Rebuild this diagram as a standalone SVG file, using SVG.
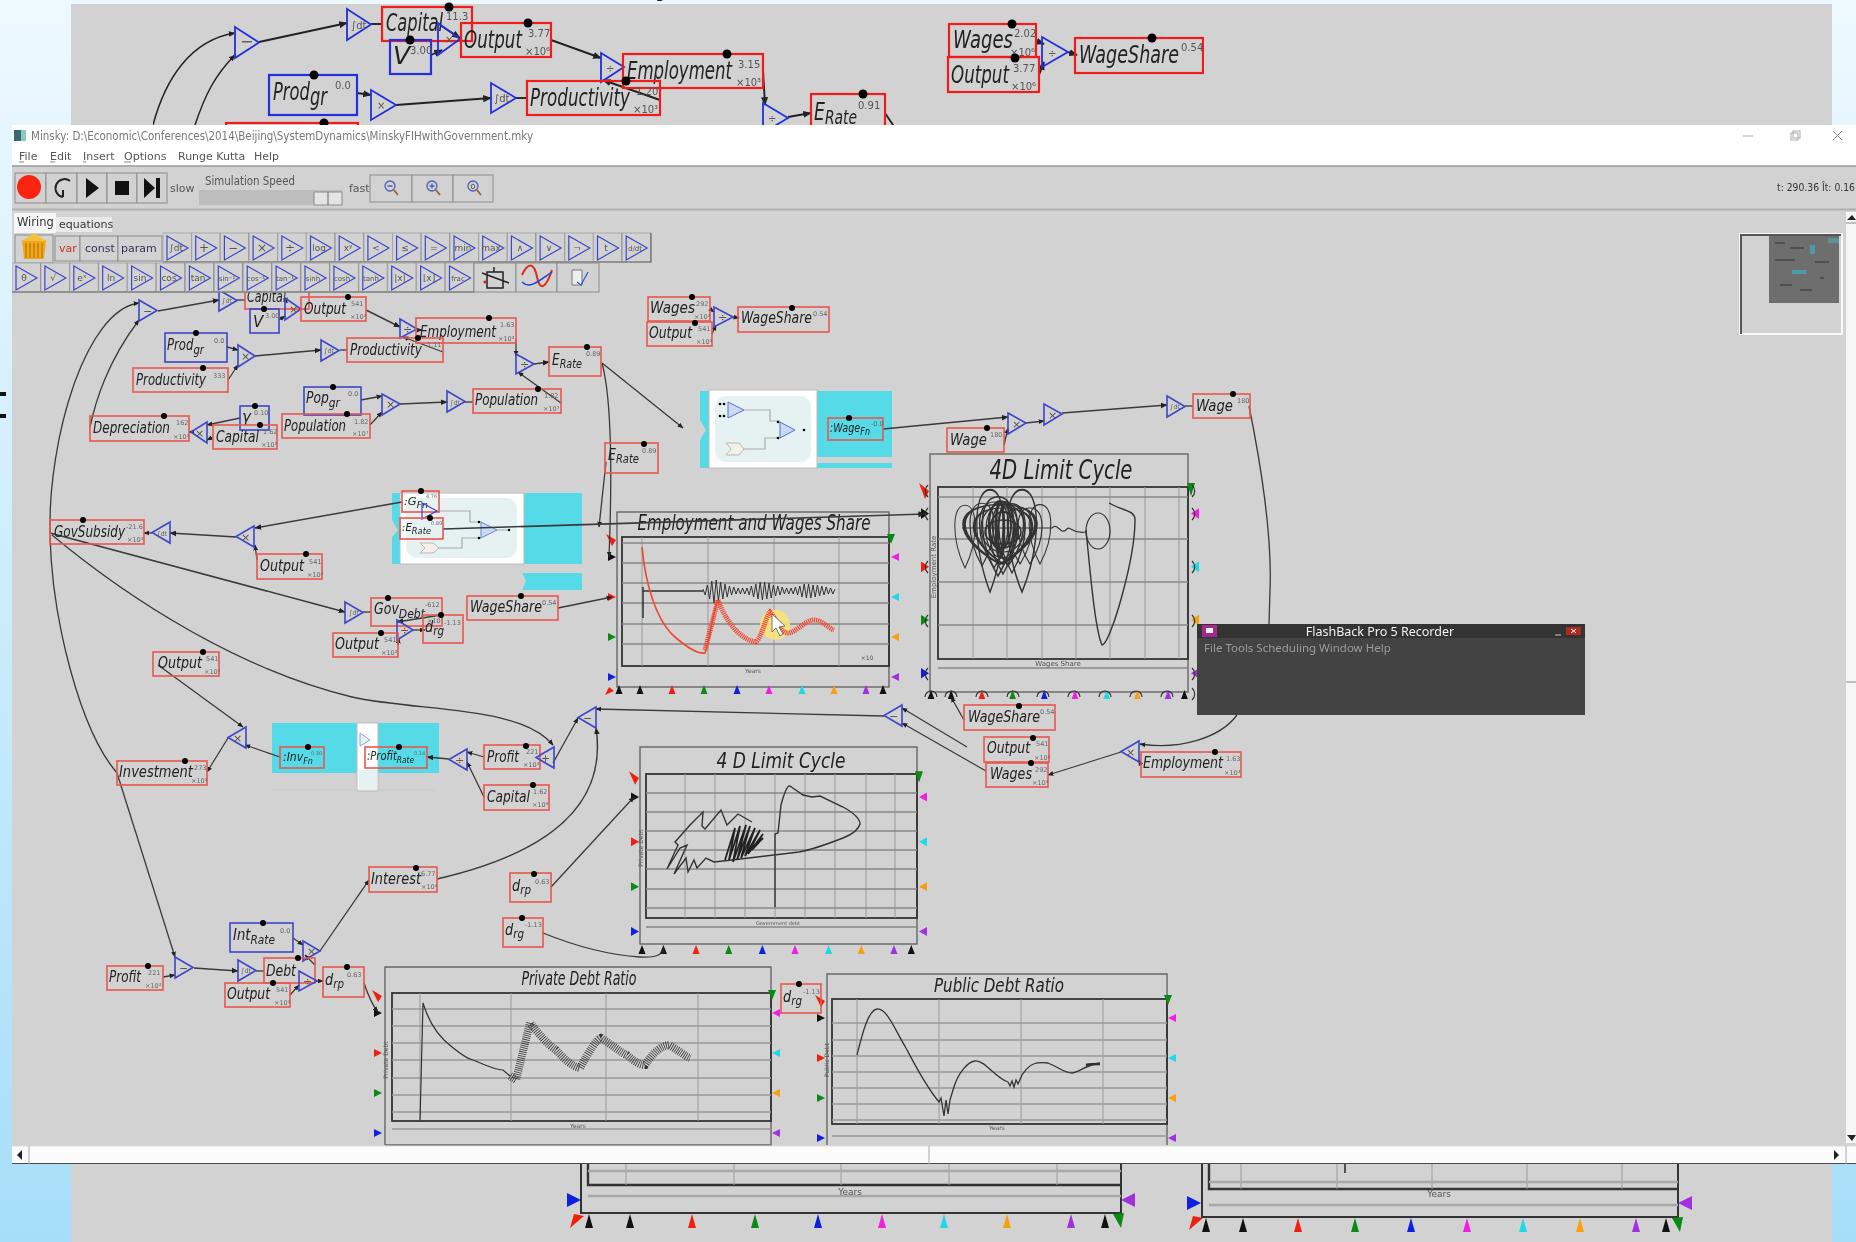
<svg xmlns="http://www.w3.org/2000/svg" width="1856" height="1242" viewBox="0 0 1856 1242">
<style>
text{font-family:"DejaVu Sans","Liberation Sans",sans-serif;fill:#222}
.v{fill:none;stroke:#e8574e;stroke-width:1.6}
.p{fill:none;stroke:#3d47c9;stroke-width:1.6}
.V{fill:none;stroke:#f01c1c;stroke-width:2.2}
.P{fill:none;stroke:#2230e0;stroke-width:2.2}
.o{fill:none;stroke:#3d47c9;stroke-width:1.6}
.O{fill:none;stroke:#2230e0;stroke-width:1.8}
.l{font-size:15px;font-style:italic}
.L{font-size:25px;font-style:italic}
.s{font-size:6.5px;fill:#666}
.S{font-size:10px;fill:#555}
.t{font-size:9px;fill:#555;text-anchor:middle}
.T{font-size:15px;fill:#444;text-anchor:middle}
.w{fill:none;stroke:#3a3a3a;stroke-width:1.3;marker-end:url(#a)}
.n{fill:none;stroke:#3a3a3a;stroke-width:1.3}
.W{fill:none;stroke:#222;stroke-width:1.9;marker-end:url(#a)}
.N{fill:none;stroke:#222;stroke-width:1.9}
.g{stroke:#9a9a9a;stroke-width:1;fill:none}
.h{stroke:#a8a8a8;stroke-width:2.4;fill:none}
.f{fill:none;stroke:#555;stroke-width:1.6}
.c{fill:none;stroke:#333;stroke-width:1.2}
.u{fill:#d2d2d2;stroke:#8c8c8c}
.m{font-size:11px;fill:#555}
.title{font-size:27px;font-style:italic;text-anchor:middle;fill:#222}
.pt{font-size:19px;font-style:italic;text-anchor:middle;fill:#222}
.cy{fill:#55dbe8}
.ig{fill:none;stroke:#aaa;stroke-width:1.2}
</style>
<defs>
<linearGradient id="bg" x1="0" y1="0" x2="0" y2="1"><stop offset="0" stop-color="#eef9ff"/><stop offset="1" stop-color="#a6def8"/></linearGradient>
<marker id="a" markerWidth="4.500" markerHeight="4.500" viewBox="0 0 6 6" refX="5.500" refY="3" orient="auto"><path d="M0,0.500 L6,3 L0,5.500 Z" fill="#222"/></marker>
<polygon id="tr" class="o" points="0,0 18,10.5 0,21"/>
<polygon id="tl" class="o" points="18,0 0,10.5 18,21"/>
<polygon id="Tr" class="O" points="0,0 24,15.5 0,31"/>
<polygon id="pl" points="0,-4 8,0 0,4"/>
<polygon id="pr" points="8,-4 0,0 8,4"/>
<polygon id="pu" points="-3.5,9 3.5,9 0,0"/>
<polygon id="PU" points="-4,14 4,14 0,0"/>
<path id="lp" d="M0,-26 C-16,-26 -16,10 0,40 C16,10 16,-26 0,-26 Z" class="c"/>
<g id="pL"><use href="#pl" y="17" fill="#111"/><use href="#pl" y="57" fill="#f02010"/><use href="#pl" y="97" fill="#0a8a14"/><use href="#pl" y="137" fill="#1020e0"/><polygon points="-2,-6 8,0 4,6" fill="#f02010"/></g>
<g id="pR"><use href="#pr" y="17" fill="#f020e0"/><use href="#pr" y="57" fill="#20d8e8"/><use href="#pr" y="97" fill="#f5a010"/><use href="#pr" y="137" fill="#a030e0"/><polygon points="-4,-6 4,-6 0,4" fill="#0a8a14"/></g>
<g id="pB"><use href="#pu" x="0" fill="#111"/><use href="#pu" x="21" fill="#111"/><use href="#pu" x="53" fill="#f02010"/><use href="#pu" x="85" fill="#0a8a14"/><use href="#pu" x="118" fill="#1020e0"/><use href="#pu" x="150" fill="#f020e0"/><use href="#pu" x="183" fill="#20d8e8"/><use href="#pu" x="215" fill="#f5a010"/><use href="#pu" x="247" fill="#a030e0"/><use href="#pu" x="264" fill="#111"/></g>
<g id="bt"><rect class="u" width="28.7" height="29" style="stroke:#aaa"/><path d="M0,29 H28.7 V0" fill="none" stroke="#666" stroke-width="1.2"/><polygon class="o" points="4,3 25,15 4,27" style="stroke-width:1.2"/></g>
<filter id="bl" x="0" y="0" width="1" height="1" color-interpolation-filters="sRGB"><feGaussianBlur stdDeviation="0.45"/></filter>
</defs>

<rect width="1856" height="1242" fill="url(#bg)"/>
<rect x="71" y="4" width="1761" height="1238" fill="#d2d2d2"/>
<text x="658" y="-6" font-size="34" font-style="italic" style="fill:#111">y</text>
<rect x="0" y="392" width="6" height="4" fill="#111"/><rect x="0" y="414" width="6" height="4" fill="#111"/>

<g id="top-panel" filter="url(#bl)">
<g id="top-wires">
<path class="W" style="stroke-width:1.5" d="M153,125 C165,80 190,40 235,33"/>
<path class="W" style="stroke-width:1.5" d="M195,125 C205,95 215,75 235,55"/>
<path class="W" d="M259,42 L347,23"/>
<path class="N" d="M371,24 H382"/>
<path class="W" d="M440,25 L460,38"/>
<path class="W" d="M431,55 L442,50"/>
<path class="W" d="M551,40 L601,58"/>
<path class="W" d="M660,100 L603,80"/>
<path class="W" d="M763,70 L765,105"/>
<path class="W" d="M788,117 L811,113"/>
<path class="W" d="M357,93 L371,95"/>
<path class="W" d="M396,105 L491,98"/>
<path class="N" d="M516,98 H527"/>
<path class="N" d="M885,113 L895,128"/>
<path class="W" d="M1036,41 L1044,44"/>
<path class="W" d="M1039,75 L1044,62"/>
<path class="W" d="M1068,52 L1077,55"/>
</g>
<g id="top-minus"><use href="#Tr" x="235" y="27"/><text x="240" y="47" style="font-size:16px;fill:#555">−</text></g>
<g id="top-int1"><use href="#Tr" x="347" y="9"/><text class="S" x="351" y="29">∫dt</text></g>
<g id="top-capital"><rect class="V" x="382" y="7" width="90" height="34"/><circle cx="449" cy="7" r="4.5"/><text class="L" x="386" y="31" textLength="57" lengthAdjust="spacingAndGlyphs">Capital</text><text class="S" x="446" y="20">11.3</text></g>
<g id="top-v"><rect class="P" x="390" y="40" width="41" height="34"/><circle cx="410" cy="40" r="4.5"/><text class="L" x="393" y="64">V</text><text class="S" x="410" y="54">3.00</text></g>
<g id="top-times"><polygon class="O" points="438,23 460,39 438,55"/><text class="S" x="445" y="43">×</text></g>
<g id="top-output"><rect class="V" x="461" y="23" width="90" height="34"/><circle cx="528" cy="23" r="4.5"/><text class="L" x="464" y="48" textLength="58" lengthAdjust="spacingAndGlyphs">Output</text><text class="S" x="528" y="37">3.77</text><text class="S" x="525" y="55">×10⁶</text></g>
<g id="top-div1"><polygon class="O" points="601,53 624,67 601,82"/><text class="S" x="606" y="72">÷</text></g>
<g id="top-employment"><rect class="V" x="623" y="54" width="140" height="34"/><circle cx="727" cy="54" r="4.5"/><text class="L" x="627" y="79" textLength="105" lengthAdjust="spacingAndGlyphs">Employment</text><text class="S" x="738" y="68">3.15</text><text class="S" x="736" y="86">×10³</text></g>
<g id="top-productivity"><rect class="V" x="527" y="81" width="133" height="34"/><circle cx="626" cy="81" r="4.5"/><text class="L" x="530" y="106" textLength="100" lengthAdjust="spacingAndGlyphs">Productivity</text><text class="S" x="636" y="95">1.20</text><text class="S" x="633" y="113">×10³</text></g>
<g id="top-prodgr"><rect class="P" x="269" y="75" width="88" height="40"/><circle cx="314" cy="75" r="4.5"/><text class="L" x="273" y="100" textLength="54" lengthAdjust="spacingAndGlyphs">Prod<tspan dy="5">gr</tspan></text><text class="S" x="335" y="89">0.0</text></g>
<g id="top-times2"><polygon class="O" points="371,90 396,105 371,120"/><text class="S" x="377" y="109">×</text></g>
<g id="top-int2"><polygon class="O" points="491,83 516,98 491,113"/><text class="S" x="494" y="102">∫dt</text></g>
<g id="top-div2"><polygon class="O" points="763,103 788,118 763,133"/><text class="S" x="768" y="122">÷</text></g>
<g id="top-erate"><rect class="V" x="811" y="94" width="74" height="40"/><circle cx="863" cy="94" r="4.5"/><text class="L" x="814" y="120" textLength="43" lengthAdjust="spacingAndGlyphs">E<tspan dy="4" font-size="20">Rate</tspan></text><text class="S" x="858" y="109">0.91</text></g>
<g id="top-cut"><rect class="V" x="226" y="123" width="132" height="10"/><circle cx="324" cy="123" r="4.5"/></g>
<g id="top-wages"><rect class="V" x="949" y="24" width="87" height="33"/><circle cx="1012" cy="24" r="4.5"/><text class="L" x="953" y="48" textLength="60" lengthAdjust="spacingAndGlyphs">Wages</text><text class="S" x="1014" y="37">2.02</text><text class="S" x="1010" y="56">×10⁶</text></g>
<g id="top-output2"><rect class="V" x="948" y="57" width="91" height="35"/><circle cx="1015" cy="58" r="4.5"/><text class="L" x="951" y="83" textLength="58" lengthAdjust="spacingAndGlyphs">Output</text><text class="S" x="1013" y="72">3.77</text><text class="S" x="1011" y="90">×10⁶</text></g>
<g id="top-div3"><polygon class="O" points="1042,37 1068,52 1042,67"/><text class="S" x="1048" y="57">÷</text></g>
<g id="top-wageshare"><rect class="V" x="1075" y="38" width="128" height="35"/><circle cx="1152" cy="38" r="4.5"/><text class="L" x="1079" y="63" textLength="100" lengthAdjust="spacingAndGlyphs">WageShare</text><text class="S" x="1181" y="51">0.54</text></g>
</g>

<g id="bottom-plots" filter="url(#bl)">
<g id="bottom-plot-1">
<path d="M581,1160 V1213 H1121 V1160" fill="none" stroke="#333" stroke-width="2"/>
<path d="M588,1160 V1185 H1121" fill="none" stroke="#333" stroke-width="2.4"/>
<path class="g" d="M626,1160 V1185 M734,1160 V1185 M841,1160 V1185 M949,1160 V1185 M1057,1160 V1185"/>
<path class="h" d="M588,1171 H1121 M588,1196 H1121"/>
<text class="t" x="850" y="1195">Years</text>
<polygon points="567,1193 581,1200 567,1207" fill="#1020e0"/>
<polygon points="1135,1193 1121,1200 1135,1207" fill="#a030e0"/>
<polygon points="570,1228 574,1214 584,1216" fill="#f02010"/><polygon points="1113,1214 1124,1213 1121,1228" fill="#0a8a14"/>
<use href="#PU" x="589" y="1214" fill="#111"/><use href="#PU" x="630" y="1214" fill="#111"/><use href="#PU" x="692" y="1214" fill="#f02010"/><use href="#PU" x="755" y="1214" fill="#0a8a14"/><use href="#PU" x="818" y="1214" fill="#1020e0"/><use href="#PU" x="882" y="1214" fill="#f020e0"/><use href="#PU" x="944" y="1214" fill="#20d8e8"/><use href="#PU" x="1007" y="1214" fill="#f5a010"/><use href="#PU" x="1071" y="1214" fill="#a030e0"/><use href="#PU" x="1105" y="1214" fill="#111"/>
</g>
<g id="bottom-plot-2">
<path d="M1202,1160 V1217 H1678 V1160" fill="none" stroke="#333" stroke-width="2"/>
<path d="M1209,1160 V1189 H1678" fill="none" stroke="#333" stroke-width="2.4"/>
<path class="g" d="M1241,1160 V1189 M1337,1160 V1189 M1432,1160 V1189 M1527,1160 V1189 M1622,1160 V1189"/>
<path class="h" d="M1209,1182 H1678 M1209,1205 H1678"/>
<path d="M1345,1160 V1173" stroke="#333" stroke-width="1.6"/>
<text class="t" x="1439" y="1197">Years</text>
<polygon points="1187,1196 1201,1203 1187,1210" fill="#1020e0"/><polygon points="1692,1196 1678,1203 1692,1210" fill="#a030e0"/>
<polygon points="1189,1230 1193,1216 1203,1218" fill="#f02010"/><polygon points="1672,1218 1683,1217 1680,1232" fill="#0a8a14"/>
<use href="#PU" x="1206" y="1218" fill="#111"/><use href="#PU" x="1243" y="1218" fill="#111"/><use href="#PU" x="1298" y="1218" fill="#f02010"/><use href="#PU" x="1355" y="1218" fill="#0a8a14"/><use href="#PU" x="1411" y="1218" fill="#1020e0"/><use href="#PU" x="1467" y="1218" fill="#f020e0"/><use href="#PU" x="1523" y="1218" fill="#20d8e8"/><use href="#PU" x="1580" y="1218" fill="#f5a010"/><use href="#PU" x="1636" y="1218" fill="#a030e0"/><use href="#PU" x="1666" y="1218" fill="#111"/>
</g>
</g>

<g id="window" filter="url(#bl)">
<rect x="12" y="125" width="1844" height="1039" fill="#d2d2d2"/>
<rect x="12" y="125" width="1844" height="41" fill="#fff"/>

<g id="plot-employment">
<rect x="617" y="512" width="272" height="175" fill="none" stroke="#666" stroke-width="1.4"/>
<rect x="622" y="537" width="267" height="129" fill="none" stroke="#333" stroke-width="1.8"/>
<path class="g" d="M642,537 V666 M708,537 V666 M774,537 V666 M839,537 V666"/>
<path class="h" style="stroke-width:1.4;stroke:#888" d="M622,543 H889 M622,563 H889 M622,583 H889 M622,603 H889 M622,624 H889 M622,644 H889"/>
<path d="M643,618 V587 M643,591 H703" fill="none" stroke="#333" stroke-width="1.5"/>
<path d="M703,589 L705.2,595 L707.4,585 L709.6,599 L711.8,581 L714,603 L716.2,580 L718.4,601 L720.6,582 L722.8,599 L725,584 L727.2,597 L729.4,586 L731.6,595 L733.8,587 L736,594 L738.2,588 L740.4,594 L742.6,588 L744.8,594 L747,588 L749.2,595 L751.4,586 L753.6,597 L755.8,584 L758,599 L760.2,582 L762.4,600 L764.6,582 L766.8,599 L769,583 L771.2,598 L773.4,585 L775.6,596 L777.8,586 L780,595 L782.2,587 L784.4,594 L786.6,588 L788.8,594 L791,588 L793.2,594 L795.4,587 L797.6,595 L799.8,586 L802,597 L804.2,584 L806.4,598 L808.6,584 L810.8,598 L813,585 L815.2,597 L817.4,585 L819.6,596 L821.8,586 L824,595 L826.2,587 L828.4,594 L830.6,588 L832.8,594 L835,589" fill="none" stroke="#333" stroke-width="1"/>
<circle cx="775" cy="625" r="15" fill="#f6e27a" opacity="0.9"/>
<path d="M642,547 C645,580 655,620 675,637 C690,650 700,654 705,653 C710,640 713,610 718,600" fill="none" stroke="#ee4a34" stroke-width="1.7"/>
<path d="M705,650 L718,600 C725,620 740,640 756,642 C763,635 765,618 770,612 C776,618 780,632 787,633 C795,634 805,620 814,620 C822,620 828,628 834,630" fill="none" stroke="#ee4a34" stroke-width="5" stroke-dasharray="1.200 0.800"/>
<path d="M772,614 L772,632 L776,628 L780,636 L783,634 L779,627 L785,626 Z" fill="#fff" stroke="#555" stroke-width="0.8"/>
<text class="title" x="754" y="530" textLength="233" lengthAdjust="spacingAndGlyphs" style="font-size:21px">Employment and Wages Share</text>
<text class="t" x="753" y="673" style="font-size:6px">Years</text>
<text class="t" x="867" y="660" style="font-size:6px">×10</text>
<use href="#pL" x="608" y="540"/><use href="#pR" x="891" y="540"/><use href="#pB" x="619" y="685"/>
<polygon points="605,695 609,687 614,691" fill="#f02010"/>
</g>

<g id="plot-4d">
<rect x="930" y="454" width="258" height="238" fill="none" stroke="#666" stroke-width="1.4"/>
<rect x="938" y="487" width="250" height="172" fill="none" stroke="#333" stroke-width="1.8"/>
<path class="g" d="M973,487 V659 M1007,487 V659 M1042,487 V659 M1076,487 V659 M1110,487 V659 M1145,487 V659 M1179,487 V659"/>
<path class="h" style="stroke-width:1.4;stroke:#888" d="M938,497 H1188 M938,539 H1188 M938,582 H1188 M938,625 H1188 M938,668 H1188"/>
<use href="#lp" transform="translate(965,530) scale(.85,.95)"/><use href="#lp" transform="translate(982,528) scale(1,.95)"/><use href="#lp" transform="translate(990,530) scale(1.1,1.55)"/><use href="#lp" transform="translate(994,528) scale(1.2,1)"/><use href="#lp" transform="translate(998,528) scale(1.3,1.2)"/><use href="#lp" transform="translate(1003,530) scale(1.2,1.1)"/><use href="#lp" transform="translate(1008,528) scale(1.3,.95)"/><use href="#lp" transform="translate(1012,531) scale(1.1,1.05)"/><use href="#lp" transform="translate(1020,530) scale(1,.85)"/><use href="#lp" transform="translate(1022,530) scale(1.2,1.55)"/><use href="#lp" transform="translate(1030,530) scale(1,.85)"/><use href="#lp" transform="translate(1040,528) scale(.9,.9)"/><use href="#lp" transform="translate(1003,530) scale(2.4,.85)"/><use href="#lp" transform="translate(1000,528) scale(3,.9)"/>
<ellipse cx="1003" cy="528" rx="22" ry="24" class="c"/><ellipse cx="1002" cy="530" rx="16" ry="28" class="c"/><ellipse cx="1000" cy="525" rx="11" ry="24" class="c" style="stroke-width:2"/><ellipse cx="1006" cy="532" rx="8" ry="28" class="c" style="stroke-width:2"/><ellipse cx="1000" cy="530" rx="4" ry="28" class="c" style="stroke-width:2.5"/><ellipse cx="1003" cy="530" rx="13" ry="18" class="c" style="stroke-width:2"/><ellipse cx="1003" cy="532" rx="18" ry="12" class="c" style="stroke-width:1.6"/>
<path class="c" d="M962,528 H1052 C1058,522 1060,535 1066,530 C1070,524 1072,535 1086,532"/>
<ellipse cx="1098" cy="531" rx="12" ry="18" class="c"/>
<path class="c" style="stroke-width:1.4" d="M1086,530 C1090,570 1095,630 1102,645 C1110,645 1135,560 1135,520 C1135,510 1125,512 1109,503"/>
<text class="title" x="1061" y="479" textLength="143" lengthAdjust="spacingAndGlyphs">4D Limit Cycle</text>
<text class="t" x="1058" y="666" style="font-size:7px">Wages Share</text>
<text class="t" transform="translate(936,567) rotate(-90)" style="font-size:7px">Employment Rate</text>
<g transform="translate(921,491) scale(1,1.33)"><use href="#pL"/></g>
<g transform="translate(1191,491) scale(1,1.33)"><use href="#pR"/></g>
<g transform="translate(931,690) scale(.96,1)"><use href="#pB"/></g>
<path class="c" d="M928,485 a8,8 0 0 0 0,12 M928,508 a8,8 0 0 0 0,12 M928,561 a8,8 0 0 0 0,12 M928,615 a8,8 0 0 0 0,12 M928,668 a8,8 0 0 0 0,12 M1192,485 a8,8 0 0 1 0,12 M1192,508 a8,8 0 0 1 0,12 M1192,561 a8,8 0 0 1 0,12 M1192,615 a8,8 0 0 1 0,12 M1192,668 a8,8 0 0 1 0,12 M1192,688 a8,8 0 0 1 0,12"/>
<path class="c" d="M976,697 a6,6 0 0 1 12,0 M1007,697 a6,6 0 0 1 12,0 M1037,697 a6,6 0 0 1 12,0 M1068,697 a6,6 0 0 1 12,0 M1099,697 a6,6 0 0 1 12,0 M1130,697 a6,6 0 0 1 12,0 M1161,697 a6,6 0 0 1 12,0 M945,697 a6,6 0 0 1 12,0 M925,697 a6,6 0 0 1 12,0"/>
</g>

<g id="plot-4d-debt">
<rect x="640" y="747" width="277" height="197" fill="none" stroke="#666" stroke-width="1.4"/>
<rect x="646" y="774" width="271" height="144" fill="none" stroke="#333" stroke-width="1.8"/>
<path class="g" d="M685,774 V918 M715,774 V918 M745,774 V918 M775,774 V918 M805,774 V918 M835,774 V918 M866,774 V918 M895,774 V918"/>
<path class="h" style="stroke-width:1.4;stroke:#888" d="M646,793 H917 M646,812 H917 M646,831 H917 M646,850 H917 M646,869 H917 M646,889 H917 M646,908 H917 M646,927 H917"/>
<path class="c" style="stroke-width:1.4" d="M775,907 V834 L778,833 L781,805 C785,790 788,785 790,786 L803,795 L812,797 L820,796 L843,807 C852,812 860,818 860,824 C858,832 848,836 843,838 C825,845 810,850 799,852 L732,860 L714,862 L706,858 L697,868 L694,860 L688,872 L686,858 L674,874 L687,845 L680,848 L667,869 L678,845 L675,842 L690,825 L703,812 L702,826 L705,829 L721,810 L727,825 L738,814 L745,818 L752,822"/>
<path d="M725,860 L735,828 L729,860 L740,826 L733,862 L746,825 L737,860 L750,826 L741,858 L755,828 L745,856 L760,830 L748,854 L763,834 L752,850 L763,838 L755,846" fill="none" stroke="#222" stroke-width="1.8"/>
<text class="title" x="781" y="768" textLength="129" lengthAdjust="spacingAndGlyphs" style="font-size:21px">4 D Limit Cycle</text>
<text class="t" x="778" y="925" style="font-size:5px">Government debt</text>
<text class="t" transform="translate(643,848) rotate(-90)" style="font-size:6px">Private Debt</text>
<g transform="translate(631,778) scale(1,1.12)"><use href="#pL"/></g><g transform="translate(919,778) scale(1,1.12)"><use href="#pR"/></g><g transform="translate(642,945) scale(1.02,1)"><use href="#pB"/></g>
</g>

<g id="plot-private">
<path d="M385,1145 V967 H771 V1145 H385" fill="none" stroke="#666" stroke-width="1.4"/>
<rect x="392" y="993" width="379" height="128" fill="none" stroke="#333" stroke-width="1.8"/>
<path class="g" d="M420,993 V1121 M511,993 V1121 M606,993 V1121 M698,993 V1121"/>
<path class="h" style="stroke-width:1.6;stroke:#999" d="M392,1009 H771 M392,1026 H771 M392,1043 H771 M392,1060 H771 M392,1078 H771 M392,1095 H771 M392,1112 H771 M392,1129 H771"/>
<path d="M420,1122 L423,1003 C428,1020 434,1030 444,1040 C455,1050 465,1058 473,1060 C485,1065 495,1070 503,1070 L510,1076" fill="none" stroke="#333" stroke-width="1.2"/>
<path d="M510,1076 L516,1080 L530,1023 C540,1035 548,1045 556,1050 C565,1060 572,1066 580,1068 C590,1050 596,1040 601,1038 C612,1045 620,1052 627,1055 C635,1062 640,1065 645,1065 C655,1050 662,1046 669,1045 C678,1050 685,1056 690,1058" fill="none" stroke="#333" stroke-width="8" stroke-dasharray="0.800 1.300"/>
<text class="pt" x="579" y="985" textLength="115" lengthAdjust="spacingAndGlyphs">Private Debt Ratio</text>
<text class="t" x="578" y="1128" style="font-size:6px">Years</text>
<text class="t" transform="translate(388,1060) rotate(-90)" style="font-size:6px">Private Debt</text>
<g transform="translate(374,996)"><use href="#pL"/></g><g transform="translate(772,996)"><use href="#pR"/></g>
</g>

<g id="plot-public">
<path d="M827,1145 V974 H1167 V1145" fill="none" stroke="#666" stroke-width="1.4"/>
<rect x="832" y="999" width="335" height="125" fill="none" stroke="#333" stroke-width="1.8"/>
<path class="g" d="M857,999 V1124 M939,999 V1124 M1021,999 V1124 M1103,999 V1124"/>
<path class="h" style="stroke-width:1.6;stroke:#999" d="M832,1023 H1167 M832,1040 H1167 M832,1056 H1167 M832,1072 H1167 M832,1088 H1167 M832,1104 H1167 M832,1120 H1167 M832,1136 H1167"/>
<path d="M857,1055 C862,1035 868,1010 877,1009 C887,1008 895,1030 906,1048 C915,1065 925,1085 939,1102 L941,1098 L944,1116 L946,1100 L948,1114 L950,1100 L953,1090 C958,1072 968,1062 975,1061 C985,1060 995,1078 1008,1082 L1010,1086 L1012,1081 L1014,1087 L1016,1080 L1018,1084 L1022,1075 C1030,1062 1038,1062 1048,1063 C1060,1068 1065,1073 1072,1073 C1080,1072 1085,1065 1100,1063 L1100,1063" fill="none" stroke="#333" stroke-width="1.3"/>
<path d="M1086,1065 C1090,1064 1095,1064 1100,1064" fill="none" stroke="#333" stroke-width="2.500"/>
<text class="pt" x="999" y="992" textLength="130" lengthAdjust="spacingAndGlyphs">Public Debt Ratio</text>
<text class="t" x="997" y="1130" style="font-size:6px">Years</text>
<text class="t" transform="translate(829,1060) rotate(-90)" style="font-size:6px">Public Debt</text>
<g transform="translate(817,1001)"><use href="#pL"/></g><g transform="translate(1168,1001)"><use href="#pR"/></g>
</g>

<g id="group-wage">
<path class="cy" d="M700,391 H892 V457 H817 V468 H700 V440 L706,430 L700,420 Z"/>
<rect class="cy" x="817" y="463" width="75" height="5"/>
<rect x="709" y="390" width="108" height="78" fill="#fff" stroke="#bbb"/>
<rect x="715" y="396" width="96" height="66" rx="11" fill="#e6f2f2"/>
<polygon points="728,402 744,410 728,418" fill="#c9daf2" stroke="#5b6fd0"/>
<polygon points="780,422 795,430 780,438" fill="#c9daf2" stroke="#5b6fd0"/>
<path class="ig" d="M744,410 H770 V421 H780 M744,449 H765 V438 H780"/>
<polygon points="726,443 739,443 744,449 739,455 726,455 731,449" fill="#f2efec" stroke="#bba"/>
<circle cx="720" cy="404" r="1.300"/><circle cx="724" cy="404" r="1.300"/><circle cx="720" cy="416" r="1.300"/><circle cx="724" cy="416" r="1.300"/><circle cx="778" cy="422" r="1.300"/><circle cx="778" cy="438" r="1.300"/><circle cx="804" cy="430" r="1.300"/>
</g>
<g id="group-gov">
<path class="cy" d="M392,493 H582 V564 H392 V537 L398,530 L392,520 Z"/>
<path class="cy" d="M522,573 H582 V590 H522 L526,581 Z"/>
<rect x="400" y="493" width="124" height="71" fill="#fff" stroke="#bbb"/>
<rect x="406" y="498" width="111" height="60" rx="11" fill="#e6f2f2"/>
<polygon points="481,522 497,530 481,538" fill="#c9daf2" stroke="#6f82d8"/>
<path class="ig" d="M440,511 H470 V522 H481 M439,548 H462 V538 H481 M497,530 H507"/>
<polygon points="420,543 433,543 439,548 433,553 420,553 425,548" fill="#f2efec" stroke="#bba"/>
<circle cx="479" cy="522" r="1.300"/><circle cx="479" cy="538" r="1.300"/><circle cx="509" cy="530" r="1.300"/>
</g>
<g id="group-inv">
<rect class="cy" x="272" y="723" width="167" height="50"/>
<rect x="357" y="723" width="21" height="68" fill="#fff" stroke="#bbb"/>
<rect x="359" y="770" width="18" height="19" fill="#e6f2f2"/>
<polygon points="360,733 370,740 360,746" fill="#e6f2f2" stroke="#8fa0e0"/>
<path d="M272,790 H435" stroke="#c8c8c8" stroke-width="0.8"/>
</g>

<g id="connectors">
<path class="w" d="M90,427 C100,380 120,345 139,320"/>
<path class="w" d="M50,533 C48,440 85,310 139,303"/>
<path class="n" d="M50,535 C52,620 80,730 117,773"/>
<path class="w" d="M117,773 L175,957"/>
<path class="w" style="stroke-width:1.5" d="M50,533 L345,612"/>
<path class="w" d="M52,535 C130,600 240,670 352,697 C420,712 520,705 553,745"/>
<path class="w" style="stroke-width:1.5" d="M158,311 L219,300"/>
<path class="n" d="M237,300 H245"/>
<path class="w" d="M286,300 L287,303"/>
<path class="w" d="M279,320 L285,316"/>
<path class="w" style="stroke-width:1.5" d="M366,310 L400,327"/>
<path class="w" d="M443,352 L403,337"/>
<path class="w" d="M417,330 L422,330"/>
<path class="w" d="M516,340 L516,356"/>
<path class="w" d="M561,403 L518,372"/>
<path class="w" style="stroke-width:1.5" d="M534,364 L549,362"/>
<path class="w" d="M227,347 L238,350"/>
<path class="w" d="M228,380 L238,365"/>
<path class="w" style="stroke-width:1.5" d="M255,356 L321,350"/>
<path class="n" d="M340,350 H347"/>
<path class="w" d="M361,400 L382,396"/>
<path class="w" d="M370,425 L382,412"/>
<path class="w" style="stroke-width:1.5" d="M400,404 L447,402"/>
<path class="n" d="M464,402 H473"/>
<path class="w" d="M240,418 L207,425"/>
<path class="w" d="M213,437 L207,440"/>
<path class="w" d="M191,432 L189,432"/>
<path class="w" d="M710,309 L714,312"/>
<path class="w" d="M712,334 L716,325"/>
<path class="w" d="M733,317 L739,318"/>
<path class="w" d="M602,363 C612,400 612,480 609,557"/>
<path class="w" d="M606,462 L599,527"/>
<path class="w" style="stroke-width:1.6" d="M443,529 L925,514"/>
<path class="w" d="M602,363 L683,428"/>
<path class="w" style="stroke-width:1.5" d="M883,429 L1008,417"/>
<path class="w" d="M1004,445 L1008,428"/>
<path class="w" d="M1026,423 L1044,421"/>
<path class="w" style="stroke-width:1.5" d="M1062,413 L1167,405"/>
<path class="n" d="M1185,406 H1193"/>
<path class="w" d="M558,608 L612,597"/>
<path class="w" d="M551,887 L634,797"/>
<path class="w" d="M543,933 C580,948 610,955 640,957 C655,958 663,955 663,948"/>
<path class="w" style="stroke-width:1.5" d="M437,879 C520,860 610,820 596,728"/>
<path class="w" d="M553,763 L578,718"/>
<path class="w" d="M884,716 L596,709"/>
<path class="w" d="M967,747 L902,708"/>
<path class="w" d="M986,771 L902,723"/>
<path class="w" d="M964,720 L951,697"/>
<path class="w" d="M1121,752 L1048,775"/>
<path class="w" d="M1249,406 C1262,470 1272,540 1270,590 L1269,624 M1237,715 C1220,738 1180,750 1140,744"/>
<path class="w" d="M1141,765 L1139,760"/>
<path class="w" d="M484,757 L467,752"/>
<path class="w" d="M484,797 L467,762"/>
<path class="w" style="stroke-width:1.5" d="M449,759 L427,757"/>
<path class="w" d="M280,757 L245,745"/>
<path class="w" d="M158,665 L243,727"/>
<path class="w" d="M228,738 L207,772"/>
<path class="w" d="M163,977 L175,975"/>
<path class="w" style="stroke-width:1.5" d="M194,968 L238,971"/>
<path class="n" d="M256,971 H264"/>
<path class="w" d="M320,951 L369,880"/>
<path class="w" d="M293,938 L303,945"/>
<path class="w" d="M315,965 L305,955"/>
<path class="w" d="M317,981 L323,981"/>
<path class="w" d="M290,995 L299,985"/>
<path class="w" d="M364,983 C368,995 372,1005 378,1012"/>
<path class="w" style="stroke-width:1.5" d="M236,537 L170,533"/>
<path class="w" d="M152,533 L144,533"/>
<path class="w" d="M257,560 L255,545"/>
<path class="w" style="stroke-width:1.5" d="M402,502 L255,528"/>
<path class="n" d="M363,612 H371"/>
<path class="w" style="stroke-width:1.5" d="M441,615 L397,622"/>
<path class="w" d="M398,645 L399,638"/>
<path class="w" d="M413,630 L425,630"/>
</g>

<g id="n-minus1"><use href="#tr" x="139" y="300"/><text class="m" x="143" y="315">−</text></g>
<g id="n-int1"><use href="#tr" x="219" y="290"/><text class="s" x="222" y="303">∫dt</text></g>
<g id="n-capital1"><rect class="v" x="245" y="290" width="64" height="19"/><text class="l" x="247" y="302" textLength="39" lengthAdjust="spacingAndGlyphs">Capital</text></g>
<g id="n-v"><rect class="p" x="250" y="309" width="29" height="24"/><circle cx="264" cy="309" r="3"/><text class="l" x="253" y="327">V</text><text class="s" x="265" y="318">3.00</text></g>
<g id="n-times1"><polygon class="o" points="285,298 301,309 285,320"/><text class="m" x="289" y="313" style="fill:#8a4a20">×</text></g>
<g id="n-output1"><rect class="v" x="301" y="297" width="65" height="24"/><circle cx="348" cy="297" r="3"/><text class="l" x="304" y="314" textLength="42" lengthAdjust="spacingAndGlyphs">Output</text><text class="s" x="351" y="306">541</text><text class="s" x="350" y="319">×10³</text></g>
<g id="n-div1"><polygon class="o" points="400,319 417,329 400,338"/><text class="m" x="403" y="333">÷</text></g>
<g id="n-employment1"><rect class="v" x="416" y="318" width="100" height="25"/><circle cx="489" cy="318" r="3"/><text class="l" x="420" y="337" textLength="76" lengthAdjust="spacingAndGlyphs">Employment</text><text class="s" x="500" y="327">1.63</text><text class="s" x="498" y="341">×10³</text></g>
<g id="n-productivity1"><rect class="v" x="347" y="338" width="96" height="24"/><circle cx="418" cy="338" r="3"/><text class="l" x="350" y="355" textLength="72" lengthAdjust="spacingAndGlyphs">Productivity</text><text class="s" x="427" y="347">1.11</text></g>
<g id="n-int2"><use href="#tr" x="321" y="340"/><text class="s" x="324" y="353">∫dt</text></g>
<g id="n-prodgr"><rect class="p" x="165" y="333" width="62" height="29"/><circle cx="196" cy="333" r="3"/><text class="l" x="167" y="350" textLength="37" lengthAdjust="spacingAndGlyphs">Prod<tspan dy="4" font-size="13">gr</tspan></text><text class="s" x="214" y="343">0.0</text></g>
<g id="n-times2"><polygon class="o" points="238,345 255,356 238,367"/><text class="m" x="241" y="360">×</text></g>
<g id="n-productivity2"><rect class="v" x="133" y="368" width="95" height="24"/><circle cx="203" cy="368" r="3"/><text class="l" x="136" y="385" textLength="70" lengthAdjust="spacingAndGlyphs">Productivity</text><text class="s" x="213" y="378">333</text></g>
<g id="n-div2"><polygon class="o" points="516,354 534,364 516,374"/><text class="m" x="520" y="368">÷</text></g>
<g id="n-erate1"><rect class="v" x="549" y="347" width="52" height="29"/><circle cx="587" cy="347" r="3"/><text class="l" x="552" y="365" textLength="30" lengthAdjust="spacingAndGlyphs">E<tspan dy="3" font-size="12">Rate</tspan></text><text class="s" x="586" y="356">0.89</text></g>
<g id="n-popgr"><rect class="p" x="304" y="387" width="57" height="28"/><circle cx="333" cy="387" r="3"/><text class="l" x="306" y="403" textLength="34" lengthAdjust="spacingAndGlyphs">Pop<tspan dy="4" font-size="13">gr</tspan></text><text class="s" x="348" y="396">0.0</text></g>
<g id="n-population1"><rect class="v" x="282" y="414" width="88" height="24"/><circle cx="347" cy="414" r="3"/><text class="l" x="284" y="431" textLength="62" lengthAdjust="spacingAndGlyphs">Population</text><text class="s" x="354" y="424">1.82</text><text class="s" x="352" y="436">×10⁷</text></g>
<g id="n-times3"><polygon class="o" points="382,394 400,404 382,415"/><text class="m" x="386" y="408">×</text></g>
<g id="n-int3"><use href="#tr" x="447" y="391"/><text class="s" x="450" y="405">∫dt</text></g>
<g id="n-population2"><rect class="v" x="473" y="389" width="88" height="24"/><circle cx="538" cy="389" r="3"/><text class="l" x="475" y="405" textLength="63" lengthAdjust="spacingAndGlyphs">Population</text><text class="s" x="544" y="398">1.82</text><text class="s" x="543" y="411">×10⁷</text></g>
<g id="n-gamma"><rect class="p" x="240" y="406" width="29" height="24"/><circle cx="255" cy="406" r="3"/><text class="l" x="242" y="422">γ</text><text class="s" x="254" y="415">0.10</text></g>
<g id="n-times4"><polygon class="o" points="207,422 191,432 207,443"/><text class="m" x="195" y="437">×</text></g>
<g id="n-capital2"><rect class="v" x="213" y="425" width="64" height="24"/><circle cx="260" cy="425" r="3"/><text class="l" x="216" y="442" textLength="43" lengthAdjust="spacingAndGlyphs">Capital</text><text class="s" x="263" y="434">1.62</text><text class="s" x="261" y="447">×10⁹</text></g>
<g id="n-depreciation"><rect class="v" x="90" y="416" width="99" height="25"/><circle cx="164" cy="416" r="3"/><text class="l" x="93" y="433" textLength="77" lengthAdjust="spacingAndGlyphs">Depreciation</text><text class="s" x="176" y="425">162</text><text class="s" x="173" y="439">×10³</text></g>
<g id="n-erate2"><rect class="v" x="605" y="443" width="53" height="30"/><circle cx="644" cy="444" r="3"/><text class="l" x="608" y="460" textLength="31" lengthAdjust="spacingAndGlyphs">E<tspan dy="3" font-size="12">Rate</tspan></text><text class="s" x="642" y="453">0.89</text></g>
<g id="n-wages1"><rect class="v" x="648" y="297" width="62" height="24"/><circle cx="692" cy="297" r="3"/><text class="l" x="650" y="313" textLength="45" lengthAdjust="spacingAndGlyphs">Wages</text><text class="s" x="696" y="306">292</text><text class="s" x="694" y="319">×10³</text></g>
<g id="n-output2"><rect class="v" x="647" y="322" width="65" height="24"/><circle cx="695" cy="323" r="3"/><text class="l" x="649" y="338" textLength="43" lengthAdjust="spacingAndGlyphs">Output</text><text class="s" x="698" y="331">541</text><text class="s" x="696" y="344">×10³</text></g>
<g id="n-div3"><polygon class="o" points="714,307 733,317 714,327"/><text class="m" x="718" y="321">÷</text></g>
<g id="n-wageshare1"><rect class="v" x="738" y="307" width="91" height="25"/><circle cx="792" cy="308" r="3"/><text class="l" x="741" y="323" textLength="71" lengthAdjust="spacingAndGlyphs">WageShare</text><text class="s" x="813" y="316">0.54</text></g>
<g id="n-wagefn"><rect class="v" x="828" y="418" width="55" height="22"/><circle cx="849" cy="418" r="3"/><text class="l" x="830" y="432" textLength="40" lengthAdjust="spacingAndGlyphs" style="font-size:12px">:Wage<tspan dy="3" font-size="10">Fn</tspan></text><text class="s" x="871" y="426">-0.0</text></g>
<g id="n-wage1"><rect class="v" x="947" y="428" width="57" height="24"/><circle cx="987" cy="428" r="3"/><text class="l" x="950" y="445" textLength="37" lengthAdjust="spacingAndGlyphs">Wage</text><text class="s" x="990" y="437">180</text></g>
<g id="n-times5"><polygon class="o" points="1008,413 1026,423 1008,434"/><text class="m" x="1012" y="428">×</text></g>
<g id="n-times6"><polygon class="o" points="1044,404 1062,414 1044,425"/><text class="m" x="1048" y="419">×</text></g>
<g id="n-int4"><use href="#tr" x="1167" y="396"/><text class="s" x="1170" y="409">∫dt</text></g>
<g id="n-wage2"><rect class="v" x="1193" y="394" width="57" height="24"/><circle cx="1233" cy="394" r="3"/><text class="l" x="1196" y="411" textLength="37" lengthAdjust="spacingAndGlyphs">Wage</text><text class="s" x="1237" y="403">180</text></g>
<g id="n-govsubsidy"><rect class="v" x="50" y="520" width="94" height="24"/><circle cx="83" cy="520" r="3"/><text class="l" x="54" y="537" textLength="71" lengthAdjust="spacingAndGlyphs">GovSubsidy</text><text class="s" x="126" y="529">-21.6</text><text class="s" x="127" y="542">×10³</text></g>
<g id="n-int5"><use href="#tl" x="152" y="522"/><text class="s" x="157" y="536">∫dt</text></g>
<g id="n-times7"><use href="#tl" x="236" y="526"/><text class="m" x="241" y="541">×</text></g>
<g id="n-output3"><rect class="v" x="257" y="554" width="65" height="25"/><circle cx="306" cy="554" r="3"/><text class="l" x="260" y="571" textLength="44" lengthAdjust="spacingAndGlyphs">Output</text><text class="s" x="309" y="564">541</text><text class="s" x="307" y="577">×10³</text></g>
<g id="n-gfn"><rect class="v" x="402" y="491" width="37" height="21"/><circle cx="421" cy="491" r="3"/><text class="l" x="404" y="505" textLength="24" lengthAdjust="spacingAndGlyphs" style="font-size:11px">:G<tspan dy="3" font-size="9">Fn</tspan></text><text class="s" x="426" y="498" style="font-size:5px">4.76</text><polygon class="o" points="422,503 437,511 422,519" style="stroke-width:1.2"/></g>
<g id="n-erate3"><rect class="v" x="400" y="518" width="43" height="21"/><circle cx="430" cy="518" r="3"/><text class="l" x="402" y="531" textLength="29" lengthAdjust="spacingAndGlyphs" style="font-size:11px">:E<tspan dy="3" font-size="9">Rate</tspan></text><text class="s" x="431" y="525" style="font-size:5px">0.89</text></g>
<g id="n-int6"><use href="#tr" x="345" y="602"/><text class="s" x="349" y="615">∫dt</text></g>
<g id="n-govdebt"><rect class="v" x="371" y="598" width="71" height="28"/><circle cx="388" cy="598" r="3"/><text class="l" x="374" y="614" textLength="51" lengthAdjust="spacingAndGlyphs">Gov<tspan dy="4" font-size="13">Debt</tspan></text><text class="s" x="425" y="607">-612</text><text class="s" x="427" y="623">×10</text></g>
<g id="n-wageshare2"><rect class="v" x="467" y="596" width="91" height="24"/><circle cx="521" cy="596" r="3"/><text class="l" x="470" y="612" textLength="72" lengthAdjust="spacingAndGlyphs">WageShare</text><text class="s" x="542" y="605">0.54</text></g>
<g id="n-drg1"><rect class="v" x="423" y="615" width="40" height="28"/><circle cx="441" cy="615" r="3"/><text class="l" x="425" y="632" textLength="19" lengthAdjust="spacingAndGlyphs">d<tspan dy="3" font-size="12">rg</tspan></text><text class="s" x="444" y="625">-1.13</text></g>
<g id="n-div4"><polygon class="o" points="397,620 413,630 397,640"/><text class="m" x="400" y="634" style="fill:#8a4a20">÷</text></g>
<g id="n-output4"><rect class="v" x="333" y="633" width="65" height="24"/><circle cx="381" cy="633" r="3"/><text class="l" x="335" y="649" textLength="44" lengthAdjust="spacingAndGlyphs">Output</text><text class="s" x="384" y="642">541</text><text class="s" x="381" y="655">×10³</text></g>
<g id="n-output5"><rect class="v" x="153" y="652" width="66" height="24"/><circle cx="203" cy="652" r="3"/><text class="l" x="158" y="668" textLength="44" lengthAdjust="spacingAndGlyphs">Output</text><text class="s" x="206" y="661">541</text><text class="s" x="204" y="674">×10³</text></g>
<g id="n-times8"><use href="#tl" x="228" y="727"/><text class="m" x="233" y="742">×</text></g>
<g id="n-investment"><rect class="v" x="117" y="761" width="90" height="24"/><circle cx="185" cy="761" r="3"/><text class="l" x="119" y="777" textLength="74" lengthAdjust="spacingAndGlyphs">Investment</text><text class="s" x="194" y="770">273</text><text class="s" x="191" y="783">×10³</text></g>
<g id="n-invfn"><rect class="v" x="280" y="747" width="44" height="21"/><circle cx="308" cy="747" r="3"/><text class="l" x="283" y="761" textLength="30" lengthAdjust="spacingAndGlyphs" style="font-size:12px">:Inv<tspan dy="3" font-size="9">Fn</tspan></text><text class="s" x="311" y="755" style="font-size:5px">0.30</text></g>
<g id="n-profitrate"><rect class="v" x="365" y="747" width="62" height="21"/><circle cx="399" cy="747" r="3"/><text class="l" x="367" y="760" textLength="47" lengthAdjust="spacingAndGlyphs" style="font-size:12px">:Profit<tspan dy="3" font-size="9">Rate</tspan></text><text class="s" x="414" y="755" style="font-size:5px">0.14</text></g>
<g id="n-div5"><use href="#tl" x="449" y="749"/><text class="m" x="455" y="764" style="fill:#8a4a20">÷</text></g>
<g id="n-profit1"><rect class="v" x="484" y="745" width="56" height="24"/><circle cx="526" cy="746" r="3"/><text class="l" x="487" y="762" textLength="32" lengthAdjust="spacingAndGlyphs">Profit</text><text class="s" x="526" y="754">221</text><text class="s" x="523" y="767">×10³</text></g>
<g id="n-plus"><use href="#tl" x="536" y="747"/><text class="m" x="541" y="762">+</text></g>
<g id="n-capital3"><rect class="v" x="484" y="785" width="65" height="25"/><circle cx="533" cy="785" r="3"/><text class="l" x="487" y="802" textLength="43" lengthAdjust="spacingAndGlyphs">Capital</text><text class="s" x="533" y="794">1.62</text><text class="s" x="532" y="807">×10⁹</text></g>
<g id="n-minus2"><use href="#tl" x="578" y="707"/><text class="m" x="583" y="722">−</text></g>
<g id="n-minus3"><use href="#tl" x="884" y="705"/><text class="m" x="889" y="720">−</text></g>
<g id="n-wageshare3"><rect class="v" x="964" y="705" width="91" height="25"/><circle cx="1019" cy="706" r="3"/><text class="l" x="968" y="722" textLength="72" lengthAdjust="spacingAndGlyphs">WageShare</text><text class="s" x="1040" y="714">0.54</text></g>
<g id="n-output6"><rect class="v" x="984" y="737" width="65" height="25"/><circle cx="1033" cy="738" r="3"/><text class="l" x="987" y="753" textLength="43" lengthAdjust="spacingAndGlyphs">Output</text><text class="s" x="1036" y="746">541</text><text class="s" x="1034" y="760">×10³</text></g>
<g id="n-wages2"><rect class="v" x="986" y="763" width="62" height="24"/><circle cx="1031" cy="763" r="3"/><text class="l" x="990" y="779" textLength="42" lengthAdjust="spacingAndGlyphs">Wages</text><text class="s" x="1035" y="772">292</text><text class="s" x="1032" y="785">×10³</text></g>
<g id="n-times9"><use href="#tl" x="1121" y="741"/><text class="m" x="1126" y="756">×</text></g>
<g id="n-employment2"><rect class="v" x="1141" y="752" width="100" height="25"/><circle cx="1215" cy="752" r="3"/><text class="l" x="1143" y="768" textLength="80" lengthAdjust="spacingAndGlyphs">Employment</text><text class="s" x="1226" y="761">1.63</text><text class="s" x="1224" y="775">×10³</text></g>
<g id="n-interest"><rect class="v" x="369" y="867" width="68" height="25"/><circle cx="416" cy="868" r="3"/><text class="l" x="371" y="884" textLength="50" lengthAdjust="spacingAndGlyphs">Interest</text><text class="s" x="421" y="876">6.77</text><text class="s" x="421" y="889">×10³</text></g>
<g id="n-drp1"><rect class="v" x="510" y="873" width="41" height="29"/><circle cx="534" cy="874" r="3"/><text class="l" x="512" y="891" textLength="19" lengthAdjust="spacingAndGlyphs">d<tspan dy="3" font-size="12">rp</tspan></text><text class="s" x="535" y="884">0.63</text></g>
<g id="n-drg2"><rect class="v" x="503" y="918" width="40" height="29"/><circle cx="522" cy="918" r="3"/><text class="l" x="505" y="935" textLength="19" lengthAdjust="spacingAndGlyphs">d<tspan dy="3" font-size="12">rg</tspan></text><text class="s" x="525" y="927">-1.13</text></g>
<g id="n-intrate"><rect class="p" x="230" y="923" width="63" height="29"/><circle cx="263" cy="923" r="3"/><text class="l" x="233" y="940" textLength="42" lengthAdjust="spacingAndGlyphs">Int<tspan dy="4" font-size="12">Rate</tspan></text><text class="s" x="280" y="933">0.0</text></g>
<g id="n-times10"><polygon class="o" points="303,941 320,951 303,961"/><text class="m" x="307" y="955">×</text></g>
<g id="n-debt"><rect class="v" x="264" y="958" width="51" height="25"/><circle cx="298" cy="958" r="3"/><text class="l" x="266" y="976" textLength="30" lengthAdjust="spacingAndGlyphs">Debt</text></g>
<g id="n-int7"><use href="#tr" x="238" y="960"/><text class="s" x="241" y="973">∫dt</text></g>
<g id="n-minus4"><use href="#tr" x="175" y="957"/><text class="m" x="179" y="972">−</text></g>
<g id="n-profit2"><rect class="v" x="107" y="966" width="56" height="24"/><circle cx="148" cy="966" r="3"/><text class="l" x="109" y="982" textLength="32" lengthAdjust="spacingAndGlyphs">Profit</text><text class="s" x="148" y="975">221</text><text class="s" x="145" y="988">×10³</text></g>
<g id="n-output7"><rect class="v" x="225" y="983" width="65" height="24"/><circle cx="273" cy="983" r="3"/><text class="l" x="227" y="999" textLength="43" lengthAdjust="spacingAndGlyphs">Output</text><text class="s" x="276" y="992">541</text><text class="s" x="274" y="1005">×10³</text></g>
<g id="n-div6"><polygon class="o" points="299,971 317,981 299,991"/><text class="m" x="303" y="985" style="fill:#8a4a20">÷</text></g>
<g id="n-drp2"><rect class="v" x="323" y="967" width="41" height="30"/><circle cx="347" cy="967" r="3"/><text class="l" x="325" y="985" textLength="19" lengthAdjust="spacingAndGlyphs">d<tspan dy="3" font-size="12">rp</tspan></text><text class="s" x="347" y="977">0.63</text></g>
<g id="n-drg3"><rect class="v" x="781" y="984" width="40" height="29"/><circle cx="799" cy="984" r="3"/><text class="l" x="783" y="1002" textLength="19" lengthAdjust="spacingAndGlyphs">d<tspan dy="3" font-size="12">rg</tspan></text><text class="s" x="803" y="994">-1.13</text></g>

<g id="chrome">
<rect x="12" y="166" width="1844" height="43" fill="#d2d2d2"/>
<rect x="12" y="209" width="1844" height="24" fill="#d2d2d2"/>
<path d="M12,166 H1856" stroke="#999" stroke-width="1.5"/>
<path d="M12,209.500 H1856" stroke="#b0b0b0" stroke-width="2"/>
<rect x="14" y="130" width="7" height="11" fill="#3a6a70"/><rect x="21" y="130" width="5" height="11" fill="#8cb"/>
<text x="31" y="140" font-size="11.500" style="fill:#777" textLength="502" lengthAdjust="spacingAndGlyphs">Minsky: D:\Economic\Conferences\2014\Beijing\SystemDynamics\MinskyFIHwithGovernment.mky</text>
<path d="M1743,136 H1753" stroke="#aaa"/><rect x="1791" y="133" width="7" height="7" fill="none" stroke="#aaa"/><rect x="1793" y="131" width="7" height="7" fill="none" stroke="#aaa"/><path d="M1833,131 L1842,140 M1842,131 L1833,140" stroke="#888"/>
<g><text class="m" x="19" y="160">File</text><text class="m" x="50" y="160">Edit</text><text class="m" x="83" y="160">Insert</text><text class="m" x="124" y="160">Options</text><text class="m" x="178" y="160">Runge Kutta</text><text class="m" x="254" y="160">Help</text></g>
<path d="M19,162 H24 M50,162 H55 M83,162 H86 M124,162 H131" stroke="#555" stroke-width="0.7"/>
<rect class="u" x="15" y="173" width="31" height="30"/><circle cx="29" cy="187" r="12" fill="#fb2410"/>
<rect class="u" x="46" y="173" width="31" height="30"/><path d="M70,181 A9,9 0 1 0 63,197 M63,197 L63,190" fill="none" stroke="#222" stroke-width="2"/>
<rect class="u" x="77" y="173" width="30" height="30"/><polygon points="86,178 99,188 86,198" fill="#111"/>
<rect class="u" x="107" y="173" width="30" height="30"/><rect x="115" y="181" width="14" height="14" fill="#111"/>
<rect class="u" x="137" y="173" width="30" height="30"/><polygon points="144,178 155,188 144,198" fill="#111"/><rect x="156" y="178" width="4" height="20" fill="#111"/>
<text class="m" x="170" y="192">slow</text>
<text class="m" x="205" y="185" style="font-size:12px" textLength="90" lengthAdjust="spacingAndGlyphs">Simulation Speed</text>
<rect x="199" y="190" width="143" height="15" fill="#bdbdbd"/>
<rect class="u" x="314" y="192" width="28" height="13" style="fill:#e4e4e4"/><path d="M328,192 V205" stroke="#666"/>
<text class="m" x="349" y="192">fast</text>
<rect class="u" x="370" y="175" width="42" height="27"/><rect class="u" x="412" y="175" width="41" height="27"/><rect class="u" x="453" y="175" width="40" height="27"/>
<g fill="none" stroke="#5060b8" stroke-width="1.300"><circle cx="390" cy="186" r="5"/><circle cx="432" cy="186" r="5"/><circle cx="473" cy="186" r="5"/><path d="M387.500,186 H392.500 M429.500,186 H434.500 M432,183.500 V188.500"/></g>
<path d="M394,190 L398,195 M436,190 L440,195 M477,190 L481,195" stroke="#a06030" stroke-width="1.800"/>
<text x="473" y="188.500" font-size="7" text-anchor="middle" style="fill:#333">0</text>
<text x="1777" y="191" font-size="11" style="fill:#333" textLength="78" lengthAdjust="spacingAndGlyphs">t: 290.36 Ît: 0.16</text>
<rect x="14" y="213" width="42" height="20" fill="#f6f6f6"/><rect x="56" y="217" width="56" height="15" fill="#e9e9e9"/>
<text class="m" x="17" y="226" style="fill:#333;font-size:11.500px">Wiring</text><text class="m" x="59" y="228" style="fill:#333">equations</text>
</g>
<g id="toolbar">
<rect class="u" x="15" y="235" width="38" height="28"/>
<path d="M22,240 H46 L44,259 H24 Z" fill="#f0a818"/><path d="M26,243 V258 M30,243 V258 M34,243 V258 M38,243 V258 M42,243 V258" stroke="#b06a08" stroke-width="1"/><path d="M22,241 L34,233 L46,241 Z" fill="#f5c040"/>
<rect class="u" x="55" y="236" width="25" height="25"/><rect class="u" x="80" y="236" width="38" height="25"/><rect class="u" x="118" y="236" width="44" height="25"/>
<text class="m" x="59" y="252" style="fill:#c03020">var</text><text class="m" x="85" y="252" style="fill:#335">const</text><text class="m" x="121" y="252" style="fill:#335">param</text>
<use href="#bt" x="163" y="233"/><use href="#bt" x="191.700" y="233"/><use href="#bt" x="220.400" y="233"/><use href="#bt" x="249.100" y="233"/><use href="#bt" x="277.800" y="233"/><use href="#bt" x="306.500" y="233"/><use href="#bt" x="335.200" y="233"/><use href="#bt" x="363.900" y="233"/><use href="#bt" x="392.600" y="233"/><use href="#bt" x="421.300" y="233"/><use href="#bt" x="450" y="233"/><use href="#bt" x="478.700" y="233"/><use href="#bt" x="507.400" y="233"/><use href="#bt" x="536.100" y="233"/><use href="#bt" x="564.800" y="233"/><use href="#bt" x="593.500" y="233"/><use href="#bt" x="622.200" y="233"/>
<g><text class="t" x="176" y="251">∫dt</text><text class="t" x="204" y="252" style="font-size:12px">+</text><text class="t" x="233" y="252" style="font-size:12px">−</text><text class="t" x="262" y="252" style="font-size:12px">×</text><text class="t" x="290" y="252" style="font-size:12px">÷</text><text class="t" x="319" y="251">log</text><text class="t" x="348" y="251">xʸ</text><text class="t" x="376" y="251">&lt;</text><text class="t" x="405" y="251">≤</text><text class="t" x="434" y="251">=</text><text class="t" x="463" y="251">min</text><text class="t" x="491" y="251">max</text><text class="t" x="520" y="251">∧</text><text class="t" x="549" y="251">∨</text><text class="t" x="577" y="251">¬</text><text class="t" x="606" y="251">t</text><text class="t" x="635" y="251" style="font-size:7px">d/dt</text></g>
<use href="#bt" x="12" y="263"/><use href="#bt" x="40.900" y="263"/><use href="#bt" x="69.800" y="263"/><use href="#bt" x="98.700" y="263"/><use href="#bt" x="127.600" y="263"/><use href="#bt" x="156.500" y="263"/><use href="#bt" x="185.400" y="263"/><use href="#bt" x="214.300" y="263"/><use href="#bt" x="243.200" y="263"/><use href="#bt" x="272.100" y="263"/><use href="#bt" x="301" y="263"/><use href="#bt" x="329.900" y="263"/><use href="#bt" x="358.800" y="263"/><use href="#bt" x="387.700" y="263"/><use href="#bt" x="416.600" y="263"/><use href="#bt" x="445.500" y="263"/>
<g><text class="t" x="24" y="281">θ</text><text class="t" x="53" y="281">√</text><text class="t" x="82" y="281">eˣ</text><text class="t" x="111" y="281">ln</text><text class="t" x="140" y="281">sin</text><text class="t" x="169" y="281">cos</text><text class="t" x="198" y="281">tan</text><text class="t" x="227" y="281" style="font-size:7px">sin⁻¹</text><text class="t" x="256" y="281" style="font-size:7px">cos⁻¹</text><text class="t" x="285" y="281" style="font-size:7px">tan⁻¹</text><text class="t" x="313" y="281" style="font-size:7px">sinh</text><text class="t" x="342" y="281" style="font-size:7px">cosh</text><text class="t" x="371" y="281" style="font-size:7px">tanh</text><text class="t" x="400" y="281">|x|</text><text class="t" x="429" y="281">⌊x⌋</text><text class="t" x="458" y="281" style="font-size:7px">frac</text></g>
<rect class="u" x="474" y="263" width="42" height="29"/><rect class="u" x="516" y="263" width="41" height="29"/><rect class="u" x="557" y="263" width="42" height="29"/>
<path d="M487,272 H503 V288 H487 Z M482,273 L509,283 M494,267 V272" fill="none" stroke="#222" stroke-width="1.500"/><circle cx="485" cy="282" r="1.600" fill="#e02010"/>
<path d="M522,275 C528,262 534,262 537,277 C540,292 546,288 552,270" fill="none" stroke="#e02818" stroke-width="2"/><path d="M522,282 C530,290 540,280 552,272" fill="none" stroke="#2040d8" stroke-width="1.500"/>
<path d="M572,270 H582 V285 H572 Z" fill="#eee" stroke="#777"/><path d="M577,282 L581,285 L588,272" fill="none" stroke="#3060c0" stroke-width="1.300"/>
</g>
<g id="scrollbars">
<rect x="1846" y="212" width="10" height="931" fill="#f6f6f6"/>
<polygon points="1847,220 1856,220 1852,215" fill="#222"/><path d="M1846,223 H1856 M1846,682 H1856" stroke="#888"/><polygon points="1847,1135 1856,1135 1852,1141" fill="#222"/>
<rect x="12" y="1146" width="1844" height="18" fill="#fbfbfb"/>
<path d="M12,1146 H1856" stroke="#ddd"/><path d="M12,1164 H1856" stroke="#111" stroke-width="1.500"/>
<path d="M29,1146 V1164 M929,1146 V1164 M1846,1146 V1164" stroke="#aaa"/>
<polygon points="22,1150 22,1160 17,1155" fill="#222"/><polygon points="1834,1150 1834,1160 1839,1155" fill="#222"/>
</g>
<g id="thumbnail">
<rect x="1740" y="234" width="102" height="100" fill="#d2d2d2" stroke="#fafafa" stroke-width="2"/>
<path d="M1741,334 V235 H1841" fill="none" stroke="#555" stroke-width="2"/>
<rect x="1769" y="236" width="70" height="67" fill="#6e6e6e"/>
<rect x="1810" y="245" width="5" height="9" fill="#4f9aa8"/><rect x="1792" y="270" width="14" height="4" fill="#4f9aa8"/><rect x="1828" y="238" width="11" height="5" fill="#5f8f98"/>
<path d="M1775,243 h10 M1790,248 h14 M1775,260 h20 M1815,262 h14 M1780,285 h12 M1820,278 h4 M1800,290 h12" stroke="#333"/>
</g>
</g>

<g id="flashback">
<rect x="1197" y="624" width="388" height="91" fill="#434343"/>
<rect x="1197" y="624" width="388" height="14" fill="#333"/>
<rect x="1202" y="625" width="15" height="12" fill="#a02a90"/><rect x="1206" y="628" width="7" height="5" fill="#eee"/>
<text x="1380" y="636" font-size="12.500" text-anchor="middle" style="fill:#f2f2f2;font-family:'Noto Sans','DejaVu Sans',sans-serif">FlashBack Pro 5 Recorder</text>
<path d="M1555,635 H1561" stroke="#ccc"/><rect x="1566" y="627" width="15" height="8" fill="#b02a20"/><path d="M1571,629 L1576,633 M1576,629 L1571,633" stroke="#fff"/>
<text x="1204" y="652" font-size="11.500" style="fill:#9c9c9c;font-family:'Noto Sans','DejaVu Sans',sans-serif">File  Tools  Scheduling  Window  Help</text>
</g>
</svg>
